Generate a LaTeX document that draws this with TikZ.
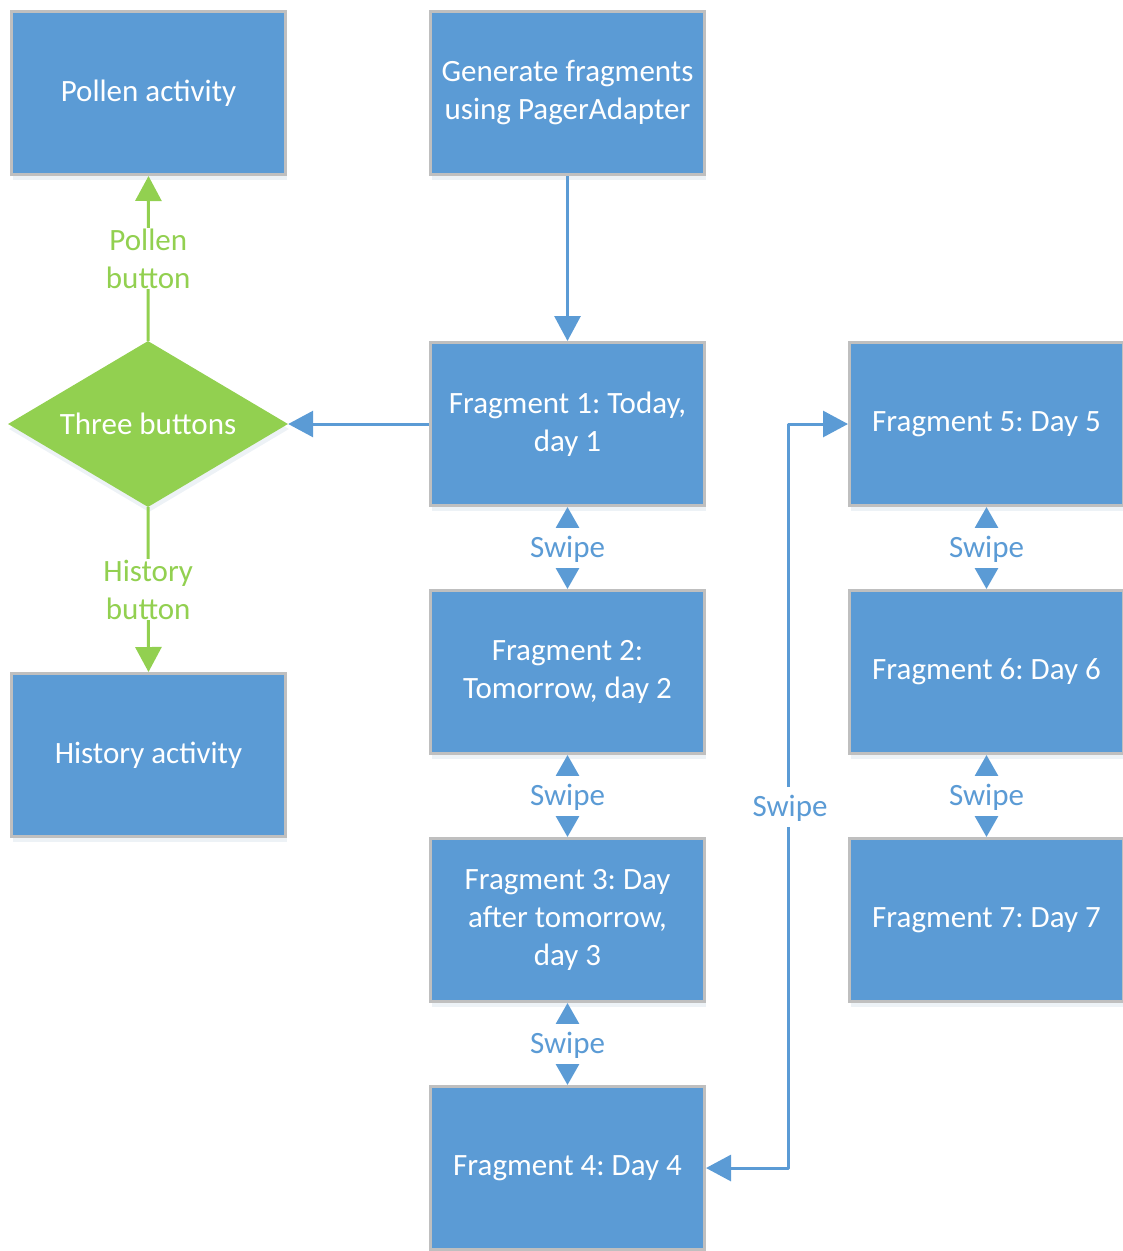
\documentclass[tikz,border=0pt]{standalone}
\usepackage{fontspec}
\setmainfont{Carlito}
\usetikzlibrary{arrows.meta,shapes.geometric,shadows}
\definecolor{boxblue}{HTML}{5B9BD5}
\definecolor{boxgray}{HTML}{BFBFBF}
\definecolor{btngreen}{HTML}{92D050}
\frenchspacing
\tikzset{
  box/.style={rectangle, fill=boxblue, draw=boxgray, line width=3pt,
    minimum width=274pt, minimum height=163pt, inner sep=4pt,
    text=white, align=center, font=\fontsize{31}{38}\selectfont,
    drop shadow={shadow xshift=1pt, shadow yshift=-5pt, fill=boxblue!60!gray, opacity=0.12}},
  dec/.style={diamond, aspect=1.687, fill=btngreen, draw=none, minimum width=280pt, minimum height=166pt,
    inner sep=0pt, text=white, font=\fontsize{31}{38}\selectfont,
    drop shadow={shadow xshift=1pt, shadow yshift=-5pt, fill=boxblue!60!gray, opacity=0.12}},
  bluearrow/.style={draw=boxblue, line width=3pt, -{Triangle[length=25pt,width=26pt]}},
  greenarrow/.style={draw=btngreen, line width=3pt, -{Triangle[length=25pt,width=26pt]}},
  swipearrow/.style={draw=boxblue, line width=3pt,
    {Triangle[length=21pt,width=23pt]}-{Triangle[length=21pt,width=23pt]}},
  swipelbl/.style={fill=white, inner xsep=2pt, inner ysep=0pt, text height=29pt, text depth=11pt,
    text=boxblue, font=\fontsize{31}{38}\selectfont},
  greenlbl/.style={fill=white, inner sep=1pt, text=btngreen, align=center, font=\fontsize{31}{38}\selectfont}
}
\begin{document}
\begin{tikzpicture}[x=1pt,y=-1pt]
\useasboundingbox (0,0) rectangle (1123,1251);
\node[box] (pollen) at (148.5,93) {Pollen activity};
\node[box] (gen) at (567.5,93) {Generate fragments\\using PagerAdapter};
\node[dec] (three) at (148,424) {Three buttons};
\node[box] (hist) at (148.5,755) {History activity};
\node[box] (f1) at (567.5,424) {Fragment 1: Today,\\day 1};
\node[box] (f2) at (567.5,672) {Fragment 2:\\Tomorrow, day 2};
\node[box] (f3) at (567.5,920) {Fragment 3: Day\\after tomorrow,\\day 3};
\node[box] (f4) at (567.5,1168) {Fragment 4: Day 4};
\node[box] (f5) at (986.5,424) {Fragment 5: Day 5};
\node[box] (f6) at (986.5,672) {Fragment 6: Day 6};
\node[box] (f7) at (986.5,920) {Fragment 7: Day 7};
\coordinate (c1) at (788,1168);
\coordinate (c2) at (788,424);

\draw[bluearrow] (gen.south) -- (f1.north);
\draw[bluearrow] (f1.west) -- (three.east);
\draw[greenarrow] (three.north) -- node[greenlbl, pos=0.5]{Pollen\\button} (pollen.south);
\draw[greenarrow] (three.south) -- node[greenlbl, pos=0.5]{History\\button} (hist.north);
\draw[swipearrow] (f1.south) -- node[swipelbl]{Swipe} (f2.north);
\draw[swipearrow] (f2.south) -- node[swipelbl]{Swipe} (f3.north);
\draw[swipearrow] (f3.south) -- node[swipelbl]{Swipe} (f4.north);
\draw[swipearrow] (f5.south) -- node[swipelbl]{Swipe} (f6.north);
\draw[swipearrow] (f6.south) -- node[swipelbl]{Swipe} (f7.north);
\draw[draw=boxblue, line width=3pt, line join=round,
  {Triangle[length=25pt,width=26pt]}-{Triangle[length=25pt,width=26pt]}]
  (f4.east) -- (c1) -- node[swipelbl, xshift=2pt, pos=0.485]{Swipe} (c2) -- (f5.west);
\end{tikzpicture}
\end{document}
